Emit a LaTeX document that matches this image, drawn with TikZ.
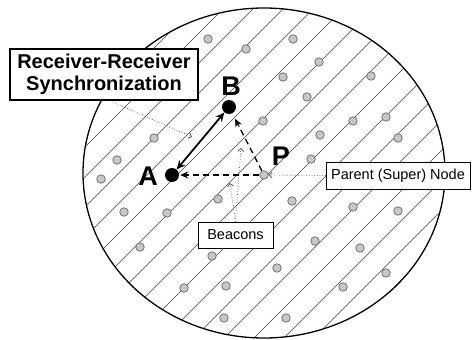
\documentclass[tikz,border=0pt]{standalone}
\usepackage{fontspec}
\setmainfont{Liberation Sans}
\usetikzlibrary{arrows.meta}

\tikzset{>=Stealth}

\begin{document}
\begin{tikzpicture}[x=1pt,y=-1pt]
	\tikzstyle{label_box} = [draw=black, fill=white, inner sep=2pt, align=center]
	\tikzstyle{beacon} = [circle, draw=black!55, fill=black!22, line width=0.8pt, minimum size=8.5pt, inner sep=0pt]
	\tikzstyle{station} = [circle, fill=black, minimum size=14pt, inner sep=0pt]
	\tikzstyle{hatch} = [black!75, line width=0.6pt]
	\tikzstyle{pointer} = [-{Straight Barb[length=3pt,width=6pt]}, dotted, black!70, line width=0.7pt]
	\tikzstyle{sync} = [{Stealth[length=9pt,width=8pt]}-{Stealth[length=9pt,width=8pt]}, line width=1.8pt]
	\tikzstyle{beacon_msg} = [-{Stealth[length=8pt,width=7pt]}, dash pattern=on 6pt off 4pt, line width=1.3pt]
	\tikzstyle{letter} = [font=\fontsize{27}{27}\selectfont\bfseries, inner sep=0pt]

	\useasboundingbox (0,0) rectangle (472,340);

%----------Область вузлів------------------------------
	\begin{scope}
		\clip (264,173) ellipse [x radius=181, y radius=165];
		\foreach \c in {112,142,...,772}
			\draw[hatch] (\c,0) -- ({\c-340},340);
	\end{scope}
	\draw[line width=1.3pt] (264,173) ellipse [x radius=181, y radius=165];

	\foreach \x/\y [count=\i] in {208/39, 246/49, 293/39, 319/62, 283/77, 371/76,
		307/97, 263/121, 353/121, 386/117, 320/135, 398/138, 154/138, 117/160,
		101/179, 311/159, 124/212, 167/213, 218/199, 292/201, 353/207, 398/211,
		140/247, 315/241, 360/248, 212/256, 277/268, 386/273, 184/288, 226/286,
		343/287, 224/318, 286/318}
		\node[beacon] (g\i) at (\x,\y) {};

%----------Вузли A, B та батьківський P------------------------------
	\node[station] (a) at (172,175) {};
	\node[station] (b) at (229,107) {};
	\node[beacon] (p) at (264,175) {};

	\node[letter] (ta) at (148,176) {A};
	\node[letter] (tb) at (231,86) {B};
	\node[letter] (tp) at (281,156) {P};

	\draw[sync] (a) -- (b);
	\draw[beacon_msg, shorten >=1pt] (p) -- (a);
	\draw[beacon_msg, shorten >=6pt] (p) -- (b);

%----------Підписи------------------------------
	\node[label_box, line width=1.5pt, minimum width=188pt, minimum height=51pt,
		font=\fontsize{20}{22}\selectfont\bfseries] (rr) at (104,74.5)
		{Receiver-Receiver\\Synchronization};
	\node[label_box, minimum width=144pt, minimum height=27pt,
		font=\fontsize{14.5}{16}\selectfont] (parent) at (398,175.5) {Parent (Super) Node};
	\node[label_box, minimum width=75pt, minimum height=26pt,
		font=\fontsize{14.5}{16}\selectfont] (bcn) at (235.5,235) {Beacons};

	\coordinate (rr_tip) at (192,137);
	\coordinate (bc_hi) at (241,148);
	\coordinate (bc_lo) at (230,183);

	\draw[pointer] ([xshift=6pt]rr.south) -- (rr_tip);
	\draw[pointer] (parent.west) -- (p);
	\draw[pointer] (bcn.north) -- (bc_hi);
	\draw[pointer] (bcn.north) -- (bc_lo);
\end{tikzpicture}
\end{document}
